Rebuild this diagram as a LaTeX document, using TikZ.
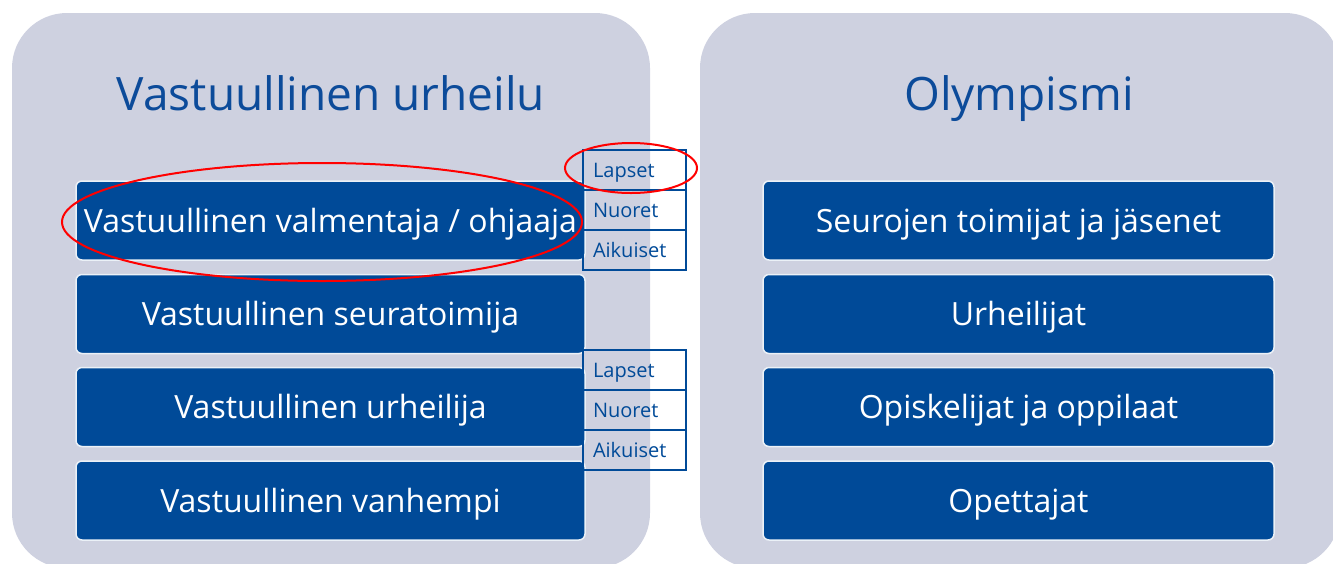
\documentclass[tikz,border=0pt]{standalone}
\usepackage{fontspec}
\setmainfont{Open Sans}
\usepackage{tikz}

\definecolor{panelgray}{HTML}{CED1E0}
\definecolor{boxblue}{HTML}{004A98}
\definecolor{titleblue}{HTML}{0C4B9A}

\tikzset{
    bigbox/.style={draw=white!92!boxblue, line width=1.5pt, fill=boxblue, rounded corners=6pt,
        text=white, minimum height=79pt, text height=23pt, text depth=0pt,
        font=\fontsize{32}{38}\selectfont},
    agebox/.style={draw=boxblue, line width=2pt, text=boxblue, minimum height=40pt,
        text height=14.3pt, text depth=0pt,
        text width=83pt, align=left, inner xsep=10pt, font=\fontsize{20}{24}\selectfont},
    titletext/.style={text=titleblue, text height=33pt, text depth=0pt,
        font=\fontsize{46}{54}\selectfont},
    mark red/.style={draw=red, line width=2pt}
}

\begin{document}
\begin{tikzpicture}[x=1pt, y=-1pt]
    \useasboundingbox (0, 0) rectangle (1333, 563);
    \clip (0, 0) rectangle (1333, 563);

    % panels
    \fill[panelgray, rounded corners=55pt] (12, 13) rectangle (650, 568);
    \fill[panelgray, rounded corners=55pt] (700, 13) rectangle (1340, 568);

    \node[titletext] (vastuu) at (331, 94) {Vastuullinen urheilu};
    \node[titletext] (olymp) at (1019, 94) {Olympismi};

    % left column
    \node[bigbox, minimum width=509pt] (valm) at (330.5, 220.5) {Vastuullinen valmentaja / ohjaaja};
    \node[bigbox, minimum width=509pt] (seura) at (330.5, 314) {Vastuullinen seuratoimija};
    \node[bigbox, minimum width=509pt] (urh) at (330.5, 407) {Vastuullinen urheilija};
    \node[bigbox, minimum width=509pt] (vanh) at (330.5, 500.5) {Vastuullinen vanhempi};

    % right column
    \node[bigbox, minimum width=511pt] (jasen) at (1018.5, 220.5) {Seurojen toimijat ja jäsenet};
    \node[bigbox, minimum width=511pt] (urheilijat) at (1018.5, 314) {Urheilijat};
    \node[bigbox, minimum width=511pt] (opisk) at (1018.5, 407) {Opiskelijat ja oppilaat};
    \node[bigbox, minimum width=511pt] (opett) at (1018.5, 500.5) {Opettajat};

    % age groups
    \foreach \g/\y in {a/170, b/370} {
        \node[agebox] (lapset\g) at (634.5, \y) {Lapset};
        \node[agebox] (nuoret\g) at (634.5, \y + 40) {Nuoret};
        \node[agebox] (aikuiset\g) at (634.5, \y + 80) {Aikuiset};
    }

    % red marks
    \draw[mark red] (322, 222) ellipse [x radius=260, y radius=59];
    \draw[mark red] (631, 168) ellipse [x radius=66, y radius=25];

\end{tikzpicture}
\end{document}
